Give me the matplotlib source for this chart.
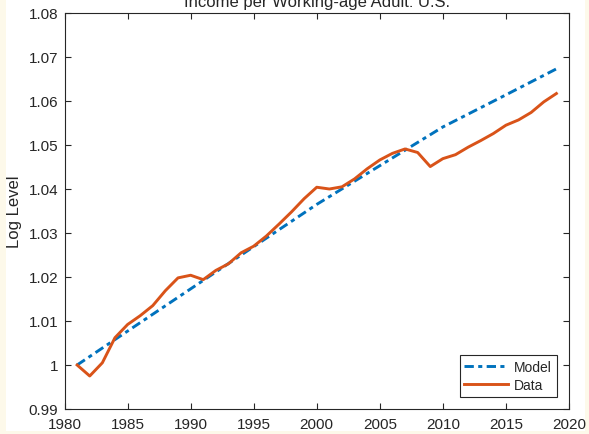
import matplotlib
matplotlib.use("Agg")
import matplotlib.pyplot as plt
from matplotlib.patches import Rectangle

plt.rcParams['font.family'] = ['Liberation Sans', 'DejaVu Sans']

years = list(range(1981, 2020))
data = [1.0000, 0.9975, 1.0005, 1.0062, 1.0092, 1.0112, 1.0135, 1.0169, 1.0198, 1.0204,
        1.0194, 1.0215, 1.0230, 1.0255, 1.0270, 1.0293, 1.0320, 1.0348, 1.0378, 1.0404,
        1.0400, 1.0405, 1.0423, 1.0446, 1.0466, 1.0481, 1.0491, 1.0483, 1.0451, 1.0469,
        1.0478, 1.0495, 1.0510, 1.0526, 1.0545, 1.0557, 1.0574, 1.0598, 1.0617]
model_years = [1981, 1985, 1990, 1995, 2000, 2005, 2010, 2015, 2019]
model = [1.0000, 1.0077, 1.0173, 1.0269, 1.0365, 1.0453, 1.0541, 1.0614, 1.0673]

xticks = [1980, 1985, 1990, 1995, 2000, 2005, 2010, 2015, 2020]
yticks = [0.99, 1.00, 1.01, 1.02, 1.03, 1.04, 1.05, 1.06, 1.07, 1.08]
ytick_labels = ['0.99', '1', '1.01', '1.02', '1.03', '1.04', '1.05', '1.06', '1.07', '1.08']

W, H = 589, 435
fig = plt.figure(figsize=(W / 100, H / 100), dpi=100, facecolor='#fdf9ea')
fig.patches.append(Rectangle((6 / W, 3 / H), 579 / W, 1 - 3 / H, transform=fig.transFigure,
                             facecolor='white', edgecolor='none', zorder=-5))

ax = fig.add_axes([64.5 / W, 1 - 410 / H, 504.5 / W, 396 / H])
ax.set_zorder(2)
ax.set_facecolor('white')
txt = '#262626'
blue = '#0072BD'
orange = '#D95319'

ax.plot(model_years, model, color=blue, lw=2.1, linestyle=(0, (3.2, 1.5, 1.4, 1.5)), label='Model')
ax.plot(years, data, color=orange, lw=2.1, label='Data')

ax.set_xlim(1980, 2020)
ax.set_ylim(0.99, 1.08)
ax.set_xticks(xticks)
ax.set_yticks(yticks)
ax.set_yticklabels(ytick_labels)
ax.tick_params(direction='in', length=4, width=0.8, colors=txt, labelsize=11,
               top=True, right=True, labeltop=False, labelright=False)
ax.tick_params(axis='y', pad=4.5)
ax.tick_params(axis='x', pad=5.5)
for s in ax.spines.values():
    s.set_color(txt)
    s.set_linewidth(0.8)

ax.set_ylabel('Log Level', fontsize=12, color=txt, labelpad=5)

fig.text((64.5 + 569) / 2 / W, 1 - 7 / H, 'Income per Working-age Adult: U.S.', ha='center',
         va='baseline', fontsize=12, color=txt)

leg = ax.legend(loc='lower right', fontsize=10, frameon=True, fancybox=False,
                edgecolor=txt, framealpha=1, borderaxespad=0.9, handlelength=3.1,
                borderpad=0.35, labelspacing=0.25, handletextpad=0.45)
leg.get_frame().set_linewidth(0.8)
for t in leg.get_texts():
    t.set_color(txt)

fig.savefig('out.png', dpi=100, facecolor=fig.get_facecolor())
